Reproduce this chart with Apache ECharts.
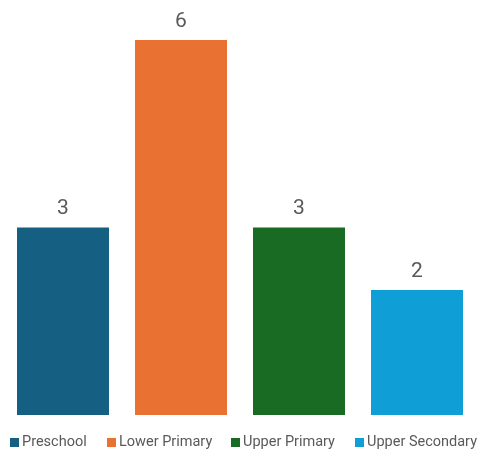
<!DOCTYPE html>
<html><head><meta charset="utf-8">
<script src="https://cdn.jsdelivr.net/npm/echarts@6/dist/echarts.min.js"></script>
<style>html,body{margin:0;padding:0;background:#fff}#c{width:477px;height:453px}</style>
</head><body><div id="c"></div>
<script>
const categories = ['Preschool', 'Lower Primary', 'Upper Primary', 'Upper Secondary'];
const values = [3, 6, 3, 2];
const colors = ['#156082', '#E97132', '#196B24', '#0F9ED5'];
const legendLeft = [10, 107, 231, 355];
const FONT = 'Roboto, sans-serif';

const series = categories.map((name, i) => ({
  name: name,
  type: 'bar',
  stack: 'all',
  barWidth: 92,
  itemStyle: { color: colors[i] },
  label: { show: true, position: 'top', distance: 8, color: '#595959', fontSize: 21, fontFamily: FONT },
  data: categories.map((c, j) => (j === i ? values[i] : '-'))
}));

const legends = categories.map((name, i) => ({
  bottom: -2, left: legendLeft[i], padding: [5, 0, 5, 0],
  itemWidth: 9, itemHeight: 9,
  icon: 'rect',
  textStyle: { color: '#595959', fontSize: 14.5, fontFamily: FONT, padding: [0, 0, 0, -2] },
  data: [name]
}));

const chart = echarts.init(document.getElementById('c'));
chart.setOption({
  animation: false,
  legend: legends,
  grid: { left: 4, right: 1, top: 40, bottom: 38 },
  xAxis: { type: 'category', data: categories, show: false },
  yAxis: { type: 'value', min: 0, max: 6, show: false },
  series: series
});
</script></body></html>
